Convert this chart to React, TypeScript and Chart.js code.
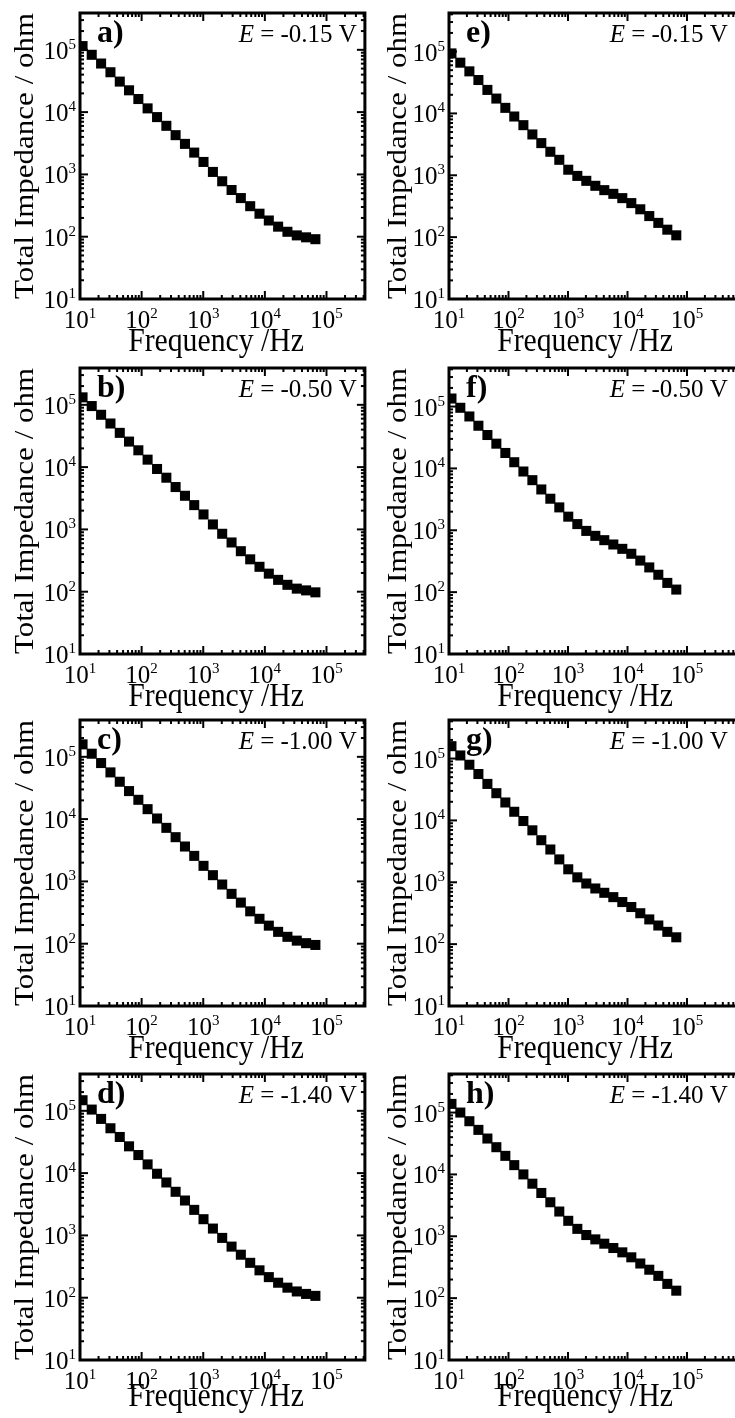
import React, { useEffect, useRef } from "react";
import { Chart, registerables } from "chart.js";

Chart.register(...registerables);

// Measurement frequencies (Hz), shared by all eight spectra
const frequencies = [
  11.0, 15.5, 22.0, 31.2, 44.2, 62.5, 88.5, 125, 178, 252, 356, 505, 714,
  1010, 1435, 2030, 2880, 4075, 5780, 8180, 11590, 16410, 23230, 32960,
  46670, 66070,
];

// |Z| (ohm) — left column
const impedanceA = [
  114800, 83180, 60260, 43650, 30900, 22390, 16220, 11480, 8318, 6026, 4266,
  3090, 2239, 1585, 1096, 776, 562, 417, 309, 234, 182, 145, 120, 105, 97.7,
  91.2,
];
const impedanceB = [
  131800, 95500, 69180, 50120, 35480, 25700, 18620, 13180, 9333, 6761, 4786,
  3467, 2455, 1738, 1202, 851, 617, 447, 331, 251, 195, 155, 129, 112, 105,
  97.7,
];
const impedanceC = [
  158500, 112200, 79430, 56230, 39810, 28180, 20420, 14450, 10230, 7244, 5129,
  3631, 2570, 1778, 1259, 891, 631, 457, 331, 251, 195, 155, 129, 112, 102,
  95.5,
];
const impedanceD = [
  147900, 104700, 74130, 52480, 38020, 26920, 19500, 13800, 9772, 7079, 5012,
  3631, 2570, 1820, 1288, 912, 661, 490, 363, 275, 214, 174, 145, 126, 115,
  107,
];

// |Z| (ohm) — right column
const impedanceE = [
  93300, 66070, 47860, 34670, 23990, 17380, 12300, 8913, 6457, 4571, 3311,
  2399, 1778, 1230, 977, 813, 676, 575, 501, 427, 355, 282, 219, 170, 132, 107,
];
const impedanceF = [
  134900, 95500, 69180, 48980, 34670, 25120, 17780, 12590, 8913, 6457, 4571,
  3236, 2344, 1660, 1259, 977, 813, 692, 589, 501, 417, 324, 251, 191, 141,
  110,
];
const impedanceG = [
  158500, 112200, 79430, 56230, 38900, 27540, 19500, 13800, 9772, 6918, 4786,
  3388, 2344, 1622, 1202, 955, 794, 676, 575, 479, 398, 316, 251, 200, 158,
  129,
];
const impedanceH = [
  138000, 100000, 72440, 52480, 38020, 27540, 19950, 14130, 10000, 7079, 5012,
  3548, 2512, 1778, 1318, 1047, 891, 759, 646, 550, 457, 363, 288, 229, 170,
  132,
];

const panelLabels = ["a)", "b)", "c)", "d)", "e)", "f)", "g)", "h)"];
const potentials = ["-0.15", "-0.50", "-1.00", "-1.40"];
const decadeExponents = [1, 2, 3, 4, 5];
const xAxisTitle = "Frequency /Hz";
const yAxisTitle = "Total Impedance / ohm";

const SERIF = '"Liberation Serif", "Times New Roman", serif';

const ROW_TOPS = [13, 368, 720, 1074];
const PLOT_H = 286;
const X_TITLE_GAP = [52, 52, 52, 46];

type ColumnSpec = {
  canvasLeft: number;
  canvasWidth: number;
  plotLeft: number;
  plotWidth: number;
  xMax: number;
  yMax: number;
  yTitleOffset: number;
  labelRight: number;
};

// The right column runs past the page edge, so its right frame is cut off.
const COLUMNS: ColumnSpec[] = [
  { canvasLeft: 0, canvasWidth: 372, plotLeft: 80, plotWidth: 287, xMax: 4.2e5, yMax: 3.9e5, yTitleOffset: 54.5, labelRight: 8 },
  { canvasLeft: 372, canvasWidth: 380, plotLeft: 449, plotWidth: 296, xMax: 9.4e5, yMax: 4.2e5, yTitleOffset: 50, labelRight: 17 },
];

type PanelProps = {
  col: number;
  row: number;
  label: string;
  potential: string;
  values: number[];
};

function Panel({ col, row, label, potential, values }: PanelProps) {
  const ref = useRef<HTMLCanvasElement | null>(null);
  const spec = COLUMNS[col];
  const canvasTop = ROW_TOPS[row] - 13;
  const canvasHeight = row < 3 ? 372 : 1418 - canvasTop;
  const padLeft = spec.plotLeft - spec.canvasLeft;
  const padRight = spec.canvasWidth - padLeft - spec.plotWidth;
  const padBottom = canvasHeight - 13 - PLOT_H;

  useEffect(() => {
    if (!ref.current) return;

    const decor = {
      id: "panelDecor",
      afterDatasetsDraw(chart: any) {
        const { ctx, chartArea: a } = chart;
        const xs = chart.scales.x;
        const ys = chart.scales.y;
        ctx.save();
        ctx.strokeStyle = "#000";
        ctx.fillStyle = "#000";

        // inward ticks on all four sides
        ctx.lineWidth = 2;
        ctx.lineCap = "butt";
        const tick = (x1: number, y1: number, x2: number, y2: number) => {
          ctx.beginPath();
          ctx.moveTo(x1, y1);
          ctx.lineTo(x2, y2);
          ctx.stroke();
        };
        for (let n = 1; n <= 5; n++) {
          for (let k = 1; k <= 9; k++) {
            const v = k * Math.pow(10, n);
            const len = k === 1 ? 8 : 4;
            if (v >= xs.min && v <= xs.max) {
              const px = xs.getPixelForValue(v);
              tick(px, a.bottom, px, a.bottom - len);
              tick(px, a.top, px, a.top + len);
            }
            if (v >= ys.min && v <= ys.max) {
              const py = ys.getPixelForValue(v);
              tick(a.left, py, a.left + len, py);
              tick(a.right, py, a.right - len, py);
            }
          }
        }

        // frame
        ctx.lineWidth = 3;
        ctx.strokeRect(a.left, a.top, a.right - a.left, a.bottom - a.top);

        // decade labels with superscript exponents
        const baseFont = `25px ${SERIF}`;
        const expFont = `15px ${SERIF}`;
        ctx.textAlign = "left";
        ctx.textBaseline = "alphabetic";
        for (const n of decadeExponents) {
          const v = Math.pow(10, n);
          ctx.font = baseFont;
          const wb = ctx.measureText("10").width;
          ctx.font = expFont;
          const we = ctx.measureText(String(n)).width;

          const py = ys.getPixelForValue(v);
          const xr = a.left - 4;
          ctx.font = baseFont;
          ctx.fillText("10", xr - we - wb, py + 9);
          ctx.font = expFont;
          ctx.fillText(String(n), xr - we, py - 1);

          if (v <= xs.max) {
            const px = xs.getPixelForValue(v);
            const x0 = px - (wb + we) / 2;
            const base = a.bottom + 29;
            ctx.font = baseFont;
            ctx.fillText("10", x0, base);
            ctx.font = expFont;
            ctx.fillText(String(n), x0 + wb, base - 10);
          }
        }

        // axis titles (slightly condensed serif)
        ctx.textAlign = "center";
        ctx.font = `33px ${SERIF}`;
        ctx.save();
        ctx.translate(a.left + 136, a.bottom + X_TITLE_GAP[row]);
        ctx.scale(0.9, 1);
        ctx.fillText(xAxisTitle, 0, 0);
        ctx.restore();

        ctx.font = `31px ${SERIF}`;
        ctx.save();
        ctx.translate(a.left - spec.yTitleOffset, (a.top + a.bottom) / 2);
        ctx.rotate(-Math.PI / 2);
        ctx.scale(1, 0.9);
        ctx.textBaseline = "middle";
        ctx.fillText(yAxisTitle, 0, 0);
        ctx.restore();

        // panel letter
        ctx.textAlign = "left";
        ctx.font = `bold 32px ${SERIF}`;
        ctx.fillText(label, a.left + 17, a.top + 29);

        // electrode potential
        const eFont = `italic 25px ${SERIF}`;
        const restFont = `25px ${SERIF}`;
        const rest = ` = ${potential} V`;
        ctx.font = eFont;
        const wE = ctx.measureText("E").width;
        ctx.font = restFont;
        const wR = ctx.measureText(rest).width;
        const xStart = a.right - spec.labelRight - wE - wR;
        ctx.font = eFont;
        ctx.fillText("E", xStart, a.top + 29);
        ctx.font = restFont;
        ctx.fillText(rest, xStart + wE, a.top + 29);

        ctx.restore();
      },
    };

    const chart = new Chart(ref.current, {
      type: "scatter",
      data: {
        datasets: [
          {
            data: frequencies.map((f, i) => ({ x: f, y: values[i] })),
            pointStyle: "rect",
            pointRadius: 7.1,
            pointHoverRadius: 7.1,
            backgroundColor: "#000",
            borderColor: "#000",
            borderWidth: 0,
            showLine: false,
          },
        ],
      },
      options: {
        responsive: false,
        animation: false,
        devicePixelRatio: 1,
        layout: {
          padding: { left: padLeft, right: padRight, top: 13, bottom: padBottom },
        },
        plugins: {
          legend: { display: false },
          tooltip: { enabled: false },
        },
        scales: {
          x: { type: "logarithmic", min: 10, max: spec.xMax, display: false },
          y: { type: "logarithmic", min: 10, max: spec.yMax, display: false },
        },
      },
      plugins: [decor],
    });
    return () => chart.destroy();
  }, []);

  return (
    <canvas
      ref={ref}
      width={spec.canvasWidth}
      height={canvasHeight}
      style={{
        position: "absolute",
        left: spec.canvasLeft,
        top: canvasTop,
        width: spec.canvasWidth,
        height: canvasHeight,
      }}
    />
  );
}

const seriesByPanel = [
  impedanceA, impedanceB, impedanceC, impedanceD,
  impedanceE, impedanceF, impedanceG, impedanceH,
];

export default function App() {
  return (
    <div
      style={{
        position: "absolute",
        left: 0,
        top: 0,
        width: 735,
        height: 1418,
        overflow: "hidden",
        background: "#fff",
      }}
    >
      {seriesByPanel.map((values, i) => {
        const col = i < 4 ? 0 : 1;
        const row = i % 4;
        return (
          <Panel
            key={panelLabels[i]}
            col={col}
            row={row}
            label={panelLabels[i]}
            potential={potentials[row]}
            values={values}
          />
        );
      })}
    </div>
  );
}
